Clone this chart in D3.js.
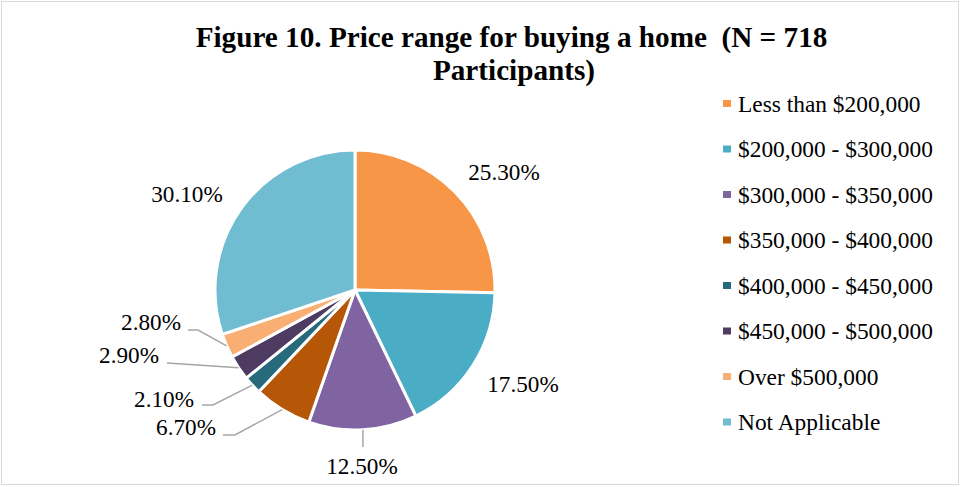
<!DOCTYPE html>
<html><head><meta charset="utf-8">
<script src="https://cdn.jsdelivr.net/npm/d3@7"></script>
<style>body{margin:0;background:#fff}svg{display:block}</style>
</head><body>
<svg id="c" width="961" height="487"></svg>
<script>
const categories = ["Less than $200,000","$200,000 - $300,000","$300,000 - $350,000","$350,000 - $400,000","$400,000 - $450,000","$450,000 - $500,000","Over $500,000","Not Applicable"];
const values = [25.3, 17.5, 12.5, 6.7, 2.1, 2.9, 2.8, 30.1];
const labels = ["25.30%","17.50%","12.50%","6.70%","2.10%","2.90%","2.80%","30.10%"];
const colors = ["#F79646","#4BACC6","#8064A2","#B65708","#276A7C","#4D3B62","#F9AE73","#70BCD1"];
const titleLines = ["Figure 10. Price range for buying a home\u00a0\u00a0(N = 718","Participants)"];

// layout (not data)
const cx = 355, cy = 290, R = 140;
const labelPos = [
  {x:504,y:180}, {x:523,y:392}, {x:362,y:474},
  {x:186,y:435,line:[[223,435],[235,435]]},
  {x:164,y:407,line:[[202,405],[213,405]]},
  {x:129,y:363,line:[[167,363]]},
  {x:151,y:330,line:[[188,330],[198,330]]},
  {x:187,y:201.5}
];
const FONT = "'Liberation Serif','Times New Roman',serif";
const svg = d3.select("#c");
svg.append("rect").attr("x",1.5).attr("y",1.5).attr("width",957).attr("height",483)
  .attr("fill","#fff").attr("stroke","#d9d9d9").attr("stroke-width",1);

svg.append("text").attr("font-family",FONT).attr("font-weight","bold").attr("font-size",29.2)
  .attr("text-anchor","middle").attr("fill","#000")
  .selectAll("tspan").data(titleLines).join("tspan")
  .attr("x",(d,i)=> i===0?511.5:514).attr("y",(d,i)=>47+i*33).text(d=>d);

const pie = d3.pie().sort(null).value(d=>d)(values);
const arc = d3.arc().innerRadius(0).outerRadius(R);
const g = svg.append("g").attr("transform",`translate(${cx},${cy})`);
g.selectAll("path").data(pie).join("path")
  .attr("d",arc).attr("fill",(d,i)=>colors[i])
  .attr("stroke","#fff").attr("stroke-width",3).attr("stroke-linejoin","round");

// leader lines
pie.forEach((d,i)=>{
  const lp = labelPos[i];
  const mid = (d.startAngle+d.endAngle)/2;
  const ex = cx + R*Math.sin(mid), ey = cy - R*Math.cos(mid);
  let pts = null;
  if (lp.line) pts = lp.line.concat([[ex,ey]]);
  else if (i===2) pts = [[ex,ey],[ex,447]];
  if (pts) svg.append("path").attr("d",d3.line()(pts)).attr("fill","none")
    .attr("stroke","#a6a6a6").attr("stroke-width",1.5);
});

svg.append("g").selectAll("text").data(labels).join("text")
  .attr("x",(d,i)=>labelPos[i].x).attr("y",(d,i)=>labelPos[i].y)
  .attr("text-anchor","middle")
  .attr("font-family",FONT).attr("font-size",23.2).attr("fill","#000").text(d=>d);

const leg = svg.append("g");
const ly = d3.scalePoint().domain(categories).range([103.5,422]);
categories.forEach((c,i)=>{
  leg.append("rect").attr("x",723).attr("y",ly(c)-3.5).attr("width",8).attr("height",7).attr("fill",colors[i]);
  leg.append("text").attr("x",738).attr("y",ly(c)+8).attr("font-family",FONT)
    .attr("font-size",23.4).attr("fill","#000").text(c);
});
</script>
</body></html>
